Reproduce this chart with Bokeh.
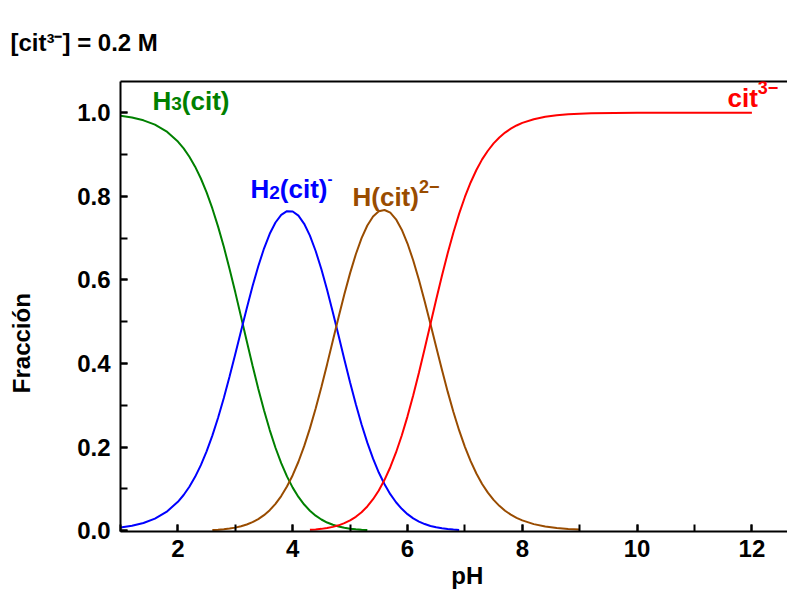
from bokeh.plotting import figure
from bokeh.models import Range1d, LinearAxis, SingleIntervalTicker, FixedTicker, Label, PrintfTickFormatter
from bokeh.embed import file_html
from bokeh.resources import INLINE

# ---- data ----
ph = [1.0, 1.2, 1.4, 1.6, 1.8, 2.0,
      2.1, 2.2, 2.3, 2.4, 2.5, 2.6, 2.7, 2.8, 2.9, 3.0,
      3.1, 3.2, 3.3, 3.4, 3.5, 3.6, 3.7, 3.8, 3.9, 4.0,
      4.1, 4.2, 4.3, 4.4, 4.5, 4.6, 4.7, 4.8, 4.9, 5.0,
      5.1, 5.2, 5.3, 5.4, 5.5, 5.6, 5.7, 5.8, 5.9, 6.0,
      6.1, 6.2, 6.3, 6.4, 6.5, 6.6, 6.7, 6.8, 6.9, 7.0,
      7.1, 7.2, 7.3, 7.4, 7.5, 7.6, 7.7, 7.8, 7.9, 8.0,
      8.2, 8.4, 8.6, 8.8, 9.0, 9.2]
h3cit = [0.9926, 0.9884, 0.9817, 0.9713, 0.9553, 0.9309,
         0.9145, 0.8946, 0.8708, 0.8425, 0.8093, 0.7709, 0.7274, 0.6790, 0.6262, 0.5701,
         0.5118, 0.4530, 0.3952, 0.3397, 0.2879, 0.2406, 0.1984, 0.1615, 0.1298, 0.1030,
         0.0807, 0.0625, 0.0477, 0.0359, 0.0267, 0.0195, 0.0141, 0.0100, 0.0070, 0.0048,
         0.0032, 0.0022, 0.0014, 0.0009, 0.0006, 0.0004, 0.0002, 0.0002, 0.0001, 0.0001,
         0, 0, 0, 0, 0, 0, 0, 0, 0, 0,
         0, 0, 0, 0, 0, 0, 0, 0, 0, 0,
         0, 0, 0, 0, 0, 0]
h2cit = [0.0074, 0.0116, 0.0183, 0.0287, 0.0447, 0.0690,
         0.0853, 0.1051, 0.1288, 0.1569, 0.1897, 0.2275, 0.2702, 0.3176, 0.3687, 0.4226,
         0.4777, 0.5323, 0.5845, 0.6326, 0.6749, 0.7102, 0.7372, 0.7554, 0.7644, 0.7637,
         0.7536, 0.7341, 0.7057, 0.6691, 0.6254, 0.5758, 0.5221, 0.4661, 0.4097, 0.3546,
         0.3023, 0.2540, 0.2105, 0.1722, 0.1391, 0.1109, 0.0873, 0.0679, 0.0522, 0.0395,
         0.0295, 0.0218, 0.0158, 0.0113, 0.0080, 0.0056, 0.0038, 0.0026, 0.0017, 0.0012,
         0.0008, 0.0005, 0.0003, 0.0002, 0.0001, 0, 0, 0, 0, 0,
         0, 0, 0, 0, 0, 0]
hcit = [0, 0, 0, 0, 0.0001, 0.0001,
        0.0002, 0.0003, 0.0005, 0.0007, 0.0010, 0.0016, 0.0024, 0.0035, 0.0051, 0.0073,
        0.0105, 0.0147, 0.0203, 0.0276, 0.0371, 0.0491, 0.0642, 0.0828, 0.1055, 0.1327,
        0.1649, 0.2022, 0.2447, 0.2921, 0.3436, 0.3984, 0.4547, 0.5111, 0.5655, 0.6161,
        0.6613, 0.6997, 0.7300, 0.7517, 0.7641, 0.7672, 0.7607, 0.7448, 0.7201, 0.6869,
        0.6464, 0.5998, 0.5485, 0.4943, 0.4392, 0.3847, 0.3326, 0.2840, 0.2398, 0.2005,
        0.1663, 0.1367, 0.1118, 0.0909, 0.0736, 0.0594, 0.0477, 0.0383, 0.0307, 0.0245,
        0.0156, 0.0099, 0.0063, 0.0040, 0.0025, 0.0016]
cit = [0, 0, 0, 0, 0, 0,
       0, 0, 0, 0, 0, 0, 0, 0, 0, 0,
       0, 0, 0, 0, 0.0001, 0.0001, 0.0001, 0.0002, 0.0003, 0.0005,
       0.0008, 0.0013, 0.0019, 0.0029, 0.0043, 0.0063, 0.0091, 0.0128, 0.0179, 0.0245,
       0.0332, 0.0442, 0.0580, 0.0752, 0.0962, 0.1216, 0.1518, 0.1871, 0.2277, 0.2735,
       0.3240, 0.3784, 0.4357, 0.4943, 0.5529, 0.6097, 0.6636, 0.7134, 0.7584, 0.7983,
       0.8330, 0.8628, 0.8882, 0.9089, 0.9264, 0.9406, 0.9523, 0.9617, 0.9693, 0.9755,
       0.9844, 0.9901, 0.9937, 0.9960, 0.9975, 0.9984]
cit_tail_ph = [9.6, 10.0, 10.5, 11.0, 12.0]
cit_tail = [0.9994, 0.9997, 0.9999, 1.0, 1.0]

# drawn extents of each curve (pH)
h3_range = (1.0, 5.3)
h2_range = (1.0, 6.9)
hc_range = (2.6, 9.0)
cit_range = (4.3, 9.2)

title_text = "[cit\u00b3\u207b] = 0.2 M"
y_label = "Fracción"
x_label = "pH"

# ---- layout ----
W, H = 787, 592
BL, BT, BB, BR = 120, 81, 61, 0
FW, FH = W - BL - BR, H - BT - BB
x0, x1 = 1.0, 1.0 + FW / 57.4
y0 = -0.002
y1 = y0 + FH / 418.0
FL, FT = BL, BT


def X(px):
    return x0 + (px - FL) / FW * (x1 - x0)


def Y(py):
    return y1 - (py - FT) / FH * (y1 - y0)


FONT = "Liberation Sans"
GREEN, BLUE, BROWN, RED = "#008000", "#0000ff", "#994c00", "#ff0000"

p = figure(width=W, height=H, output_backend="svg", toolbar_location=None,
           x_range=Range1d(x0, x1), y_range=Range1d(y0, y1),
           min_border_left=BL, min_border_top=BT, min_border_bottom=BB, min_border_right=BR,
           x_axis_location=None, y_axis_location=None)
p.outline_line_color = None
p.xgrid.visible = False
p.ygrid.visible = False
p.background_fill_color = "white"
p.border_fill_color = "white"

p.title.text = title_text
p.title.text_font = FONT
p.title.text_font_style = "bold"
p.title.text_font_size = "24px"
p.title.text_color = "black"
p.title.align = "left"
p.title.offset = -110
p.title.standoff = 52
p.title.vertical_align = "bottom"


def style_axis(ax):
    ax.axis_line_width = 2
    ax.axis_line_color = "black"
    ax.major_tick_line_width = 2
    ax.minor_tick_line_width = 2
    ax.major_tick_in = 7
    ax.major_tick_out = 0
    ax.minor_tick_in = 7
    ax.minor_tick_out = 0
    ax.major_label_text_font = FONT
    ax.major_label_text_font_style = "bold"
    ax.major_label_text_font_size = "24px"
    ax.major_label_text_color = "black"
    ax.axis_label_text_font = FONT
    ax.axis_label_text_font_style = "bold"
    ax.axis_label_text_font_size = "24px"
    ax.axis_label_text_color = "black"


xa = LinearAxis(ticker=SingleIntervalTicker(interval=2, num_minor_ticks=2),
                axis_label="\u00a0\u00a0\u00a0\u00a0" + x_label)
style_axis(xa)
xa.major_label_standoff = 8
xa.axis_label_standoff = 2
p.add_layout(xa, "below")

ya = LinearAxis(ticker=SingleIntervalTicker(interval=0.2, num_minor_ticks=2),
                formatter=PrintfTickFormatter(format="%.1f"))
ya.axis_label = y_label + "\u00a0" * 11
style_axis(ya)
ya.major_label_standoff = 10
ya.axis_label_standoff = 39
p.add_layout(ya, "left")

top = LinearAxis(ticker=FixedTicker(ticks=[]))
top.axis_line_width = 2
top.major_label_text_font_size = "0px"
top.major_tick_in = 0
top.major_tick_out = 0
top.minor_tick_in = 0
top.minor_tick_out = 0
p.add_layout(top, "above")


def seg(xs, ys, rng):
    pts = [(a, b) for a, b in zip(xs, ys) if rng[0] - 1e-9 <= a <= rng[1] + 1e-9]
    return [a for a, _ in pts], [b for _, b in pts]


xs, ys = seg(ph, h3cit, h3_range)
p.line(xs, ys, line_color=GREEN, line_width=2)
xs, ys = seg(ph, h2cit, h2_range)
p.line(xs, ys, line_color=BLUE, line_width=2)
xs, ys = seg(ph, hcit, hc_range)
p.line(xs, ys, line_color=BROWN, line_width=2)
xs, ys = seg(ph, cit, cit_range)
p.line(xs + cit_tail_ph, ys + cit_tail, line_color=RED, line_width=2)

# ---- species labels (rich text built from pieces) ----
WID = {'[': 333, 'c': 556, 'i': 278, 't': 333, ']': 333, ' ': 278, '=': 584, '0': 556, '.': 278,
       '2': 556, 'M': 833, 'H': 722, '(': 333, ')': 333, '3': 556, '-': 333, '\u2212': 584}


def tw(s, size):
    return sum(WID.get(ch, 556) for ch in s) / 1000.0 * size


def rich(pieces, px, base_py, color):
    for txt, size, dy in pieces:
        p.add_layout(Label(x=X(px), y=Y(base_py + dy), text=txt, text_font=FONT,
                           text_font_style="bold", text_font_size=f"{size}px",
                           text_color=color, text_align="left", text_baseline="alphabetic"))
        px += tw(txt, size)


rich([("H", 26, 0), ("3", 19, 3), ("(cit)", 26, 0)], 152, 100, GREEN)
rich([("H", 26, 0), ("2", 19, 4), ("(cit)", 26, 0), ("-", 15, -10)], 250, 188, BLUE)
rich([("H(cit)", 26, 0), ("2\u2212", 18, -10)], 352, 196, BROWN)
rich([("cit", 26, 0), ("3\u2212", 18, -10)], 727, 97, RED)

open("out.html", "w").write(file_html(p, INLINE))
